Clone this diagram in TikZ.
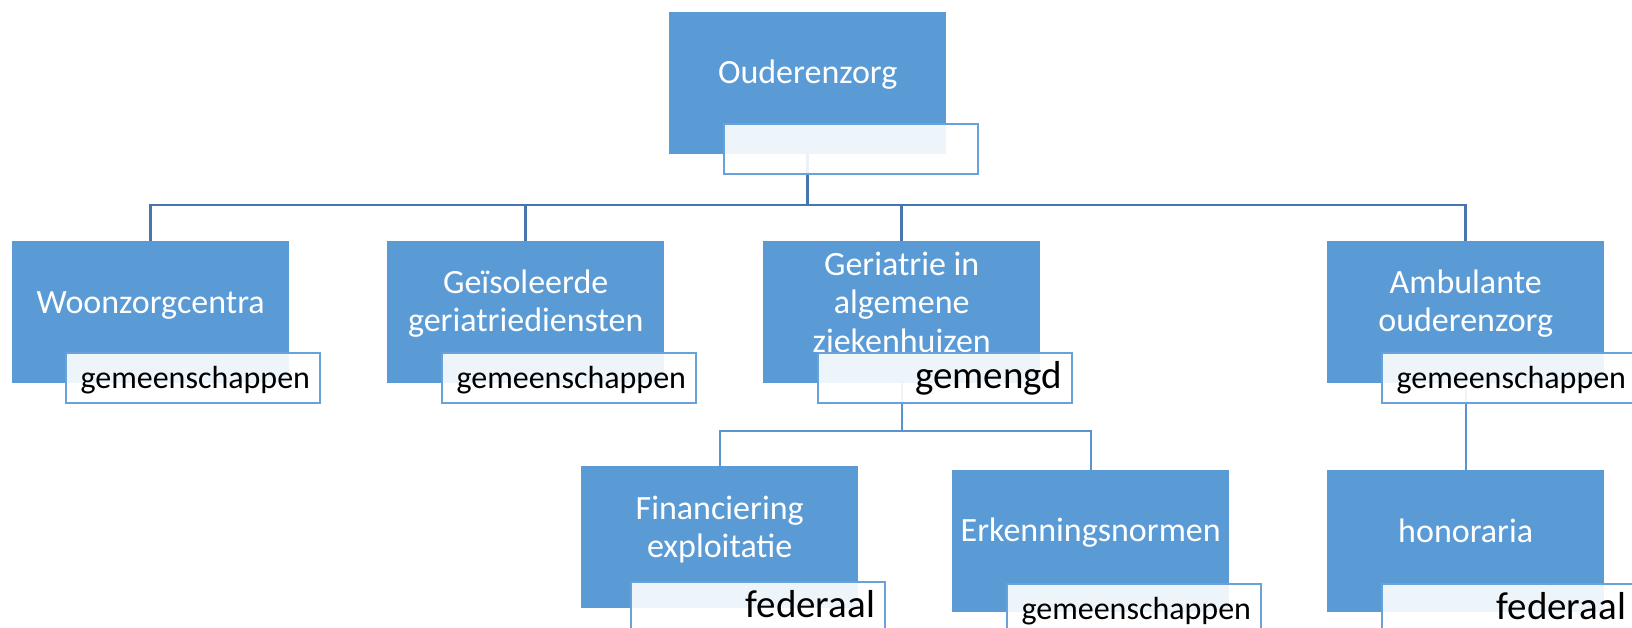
\documentclass[tikz,border=0pt]{standalone}
\usepackage{fontspec}
\setmainfont{Carlito}
\definecolor{boxblue}{HTML}{5B9BD5}
\definecolor{topline}{HTML}{4676AE}
\definecolor{lowline}{HTML}{5B93D0}
\definecolor{labborder}{HTML}{67A2DA}
\begin{document}
\begin{tikzpicture}[x=1pt,y=-1pt,
  box/.style n args={2}{rectangle, fill=boxblue, minimum width=277pt, minimum height=142pt,
    inner xsep=4pt, inner ysep=0pt, anchor=north west, text=white, text width=269pt,
    align=flush center, font=\fontsize{34}{38.5}\selectfont, text height=#1pt, text depth=#2pt},
  lab/.style={rectangle, draw=labborder, line width=2pt, fill=white, fill opacity=0.9,
    text opacity=1, minimum width=254pt, minimum height=50pt, inner xsep=10pt, inner ysep=0pt,
    text width=234pt, align=flush right, text height=35.5pt, text depth=14.5pt, anchor=north west,
    text=black, font=\fontsize{32}{36}\selectfont},
  big/.style={font=\fontsize{39}{44}\selectfont},
  upper/.style={draw=topline, line width=2.5pt},
  lower/.style={draw=lowline, line width=2pt}]
\clip (0,0) rectangle (1632,628);
\fill[white] (0,0) rectangle (1632,628);
% bus lines
\coordinate (bus1) at (0,205);
\coordinate (bus2) at (0,431);
% boxes
\node[box={71}{71}] (oz) at (669,12) {Ouderenzorg};
\node[box={72}{70}] (woon) at (12,241) {Woonzorgcentra};
\node[box={52}{90}] (geis) at (387,241) {Geïsoleerde\\geriatriediensten};
\node[box={34}{108}] (ger) at (763,241) {Geriatrie in\\algemene\\ziekenhuizen};
\node[box={52}{90}] (amb) at (1327,241) {Ambulante\\ouderenzorg};
\node[box={53}{89}] (fin) at (581,466) {Financiering\\exploitatie};
\node[box={71}{71}] (erk) at (952,470) {Erkenningsnormen};
\node[box={72}{70}] (hon) at (1327,470) {honoraria};
% connectors
\draw[upper] (oz.south) -- (oz.south |- bus1) -| (woon.north);
\draw[upper] (oz.south |- bus1) -| (geis.north);
\draw[upper] (oz.south |- bus1) -| (ger.north);
\draw[upper] (oz.south |- bus1) -| (amb.north);
\draw[lower] (ger.south) -- (ger.south |- bus2) -| (fin.north);
\draw[lower] (ger.south |- bus2) -| (erk.north);
\draw[lower] (amb.south) -- (hon.north);
% labels
\node[lab] (ozl) at (723,123) {};
\node[lab] (woonl) at (65,352) {gemeenschappen};
\node[lab] (geisl) at (441,352) {gemeenschappen};
\node[lab, big] (gerl) at (817,352) {gemengd};
\node[lab] (ambl) at (1381,352) {gemeenschappen};
\node[lab, big] (finl) at (630,581) {federaal};
\node[lab] (erkl) at (1006,583) {gemeenschappen};
\node[lab, big] (honl) at (1381,583) {federaal};
\end{tikzpicture}
\end{document}
